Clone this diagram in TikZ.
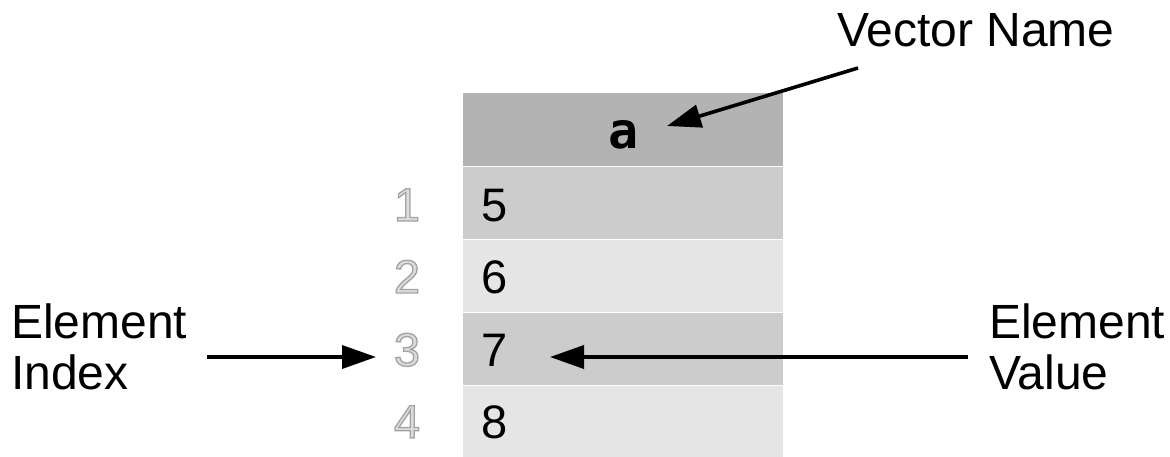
\documentclass[tikz,border=0pt]{standalone}
\usepackage{fontspec}
\setmainfont{Liberation Sans}
\newfontfamily\hdrmono{DejaVu Sans Mono}
\usetikzlibrary{arrows.meta}
\definecolor{hdrgray}{HTML}{B3B3B3}
\definecolor{rowdark}{HTML}{CCCCCC}
\definecolor{rowlight}{HTML}{E5E5E5}
\definecolor{idxgray}{HTML}{A8A8A8}
\newcommand{\outlinetext}[1]{\special{pdf:literal direct 0.86 g 0.64 G 2 Tr 1.3 w}#1\special{pdf:literal direct 0 Tr}}
\tikzset{
  lbl/.style={inner sep=0pt, font=\fontsize{48}{52}\selectfont},
  val/.style={inner sep=0pt, anchor=base west, font=\fontsize{47}{51}\selectfont},
  idx/.style={inner sep=0pt, anchor=base, text=idxgray, font=\fontsize{47}{51}\selectfont},
  arr/.style={line width=3.6pt, -{Triangle[length=34pt,width=23pt]}},
}
\begin{document}
\begin{tikzpicture}[x=1pt,y=-1pt]
\useasboundingbox (0,0) rectangle (1170,456);
% table cells
\fill[hdrgray]  (463,93)  rectangle (783,166);
\fill[rowdark]  (463,167) rectangle (783,239);
\fill[rowlight] (463,240) rectangle (783,312);
\fill[rowdark]  (463,313) rectangle (783,385);
\fill[rowlight] (463,386) rectangle (783,458);
% header
\node[inner sep=0pt, anchor=base, font=\hdrmono\bfseries\fontsize{50}{50}\selectfont] (hdr) at (624,148) {a};
% values
\node[val] (v1) at (481,221) {5};
\node[val] (v2) at (481,293) {6};
\node[val] (v3) at (481,366) {7};
\node[val] (v4) at (481,438) {8};
% indices
\node[idx] (i1) at (407,221) {\outlinetext{1}};
\node[idx] (i2) at (407,293) {\outlinetext{2}};
\node[idx] (i3) at (407,366) {\outlinetext{3}};
\node[idx] (i4) at (407,438) {\outlinetext{4}};
% labels
\node[lbl, anchor=base west] (vname) at (837,46) {Vector Name};
\node[lbl, anchor=base west] (eidx1) at (11,338) {Element};
\node[lbl, anchor=base west] (eidx2) at (11,389) {Index};
\node[lbl, anchor=base west] (eval1) at (989,338) {Element};
\node[lbl, anchor=base west] (eval2) at (989,389) {Value};
% arrow end points
\coordinate (vnTail) at (858,68);
\coordinate (vnTip) at (667,126);
\coordinate (idxTail) at (207,357);
\coordinate (idxTip) at (376,357);
\coordinate (valTail) at (968,357);
\coordinate (valTip) at (550,357);
% connectors
\draw[arr] (vnTail) -- (vnTip);
\draw[arr] (idxTail) -- (idxTip);
\draw[arr] (valTail) -- (valTip);
\end{tikzpicture}
\end{document}
